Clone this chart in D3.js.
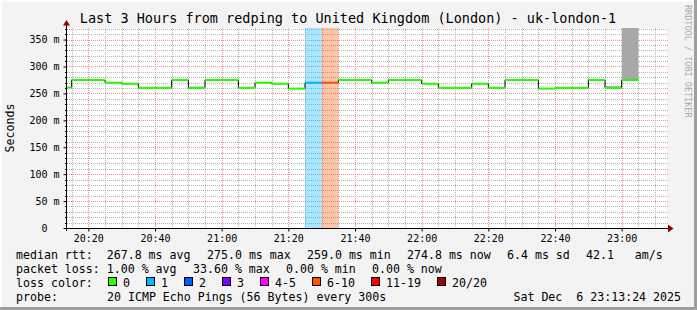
<!DOCTYPE html>
<html lang="en">
<head>
<meta charset="utf-8" />
<title>uk-london-1 smokeping</title>
<script src="https://cdn.jsdelivr.net/npm/d3@7"></script>
<style>
  html, body { margin: 0; padding: 0; background: #f3f3f3; }
  svg { display: block; font-family: "DejaVu Sans Mono", monospace; }
  text { white-space: pre; }
</style>
</head>
<body>
<div id="chart"></div>
<script>
// 5 minute steps, each label is the end of the step
const stepTimes = ["20:15","20:20","20:25","20:30","20:35","20:40","20:45","20:50","20:55","21:00",
                   "21:05","21:10","21:15","21:20","21:25","21:30","21:35","21:40","21:45","21:50",
                   "21:55","22:00","22:05","22:10","22:15","22:20","22:25","22:30","22:35","22:40",
                   "22:45","22:50","22:55","23:00","23:05"];
// median rtt in ms
const medianRtt = [261, 275, 275, 270, 268, 260.5, 260.5, 275, 260.5, 275,
                   275, 260.5, 270, 268, 259, 270, 270, 275, 275, 270,
                   275, 275, 268, 260.5, 260.5, 268, 260.5, 275, 275, 259,
                   260.5, 260.5, 275, 260.5, 274.8];
// index into lossColors for every step
const lossIndex = [0,0,0,0,0,0,0,0,0,0, 0,0,0,0,0,1,5,0,0,0, 0,0,0,0,0,0,0,0,0,0, 0,0,0,0,0];

const lossLabels = ["0", "1", "2", "3", "4-5", "6-10", "11-19", "20/20"];
const lossColors = ["#26ff00", "#00b8ff", "#0059ff", "#7e00ff", "#ff00ff", "#ff5500", "#ff0000", "#a10000"];

// smoke (ping spread) that shows above the median
const smokeTimes = ["20:55", "23:00", "23:05"];
const smokeHigh = [263, 264, 372];
const smokeShade = ["#d6d6d6", "#bdbdbd", "#a8a8a8"];

const yTicks = [0, 50, 100, 150, 200, 250, 300, 350];

const titleText = "Last 3 Hours from redping to United Kingdom (London) - uk-london-1";
const rttStats = ["median rtt:  267.8 ms avg", "275.0 ms max", "259.0 ms min", "274.8 ms now", "6.4 ms sd", "42.1   am/s"];
const lossStats = ["packet loss: 1.00 % avg", "33.60 % max", "0.00 % min", "0.00 % now"];
const probeText = "20 ICMP Echo Pings (56 Bytes) every 300s";
const stampText = "Sat Dec  6 23:13:24 2025";

// ---- layout ----
const width = 697, height = 310;
const plotLeft = 67, plotRight = 667, plotTop = 28, plotBottom = 228;

const day = Date.UTC(2025, 11, 6);
const parse = s => {
  const [h, m, sec] = s.split(":").map(Number);
  return new Date(day + ((h * 60 + m) * 60 + (sec || 0)) * 1000);
};

const x = d3.scaleUtc()
  .domain([parse("20:13:36"), parse("23:13:36")])
  .range([plotLeft, plotRight]);

const y = d3.scaleLinear()
  .domain([0, 371.5])
  .range([plotBottom, plotTop]);

const steps = stepTimes.map((s, i) => {
  const end = parse(s);
  return { start: new Date(+end - 300000), end, value: medianRtt[i], loss: lossIndex[i] };
});

const svg = d3.select("#chart").append("svg")
  .attr("width", width)
  .attr("height", height)
  .attr("viewBox", [0, 0, width, height]);

// frame
svg.append("rect").attr("width", width).attr("height", height).attr("fill", "#f3f3f3");
svg.append("path").attr("fill", "#fcfcfc")
  .attr("d", `M0,0H${width}V2H2V${height}H0Z`);
svg.append("path").attr("fill", "#9e9e9e")
  .attr("d", `M${width},0V${height}H0V${height - 3}H${width - 3}V0Z`);

// canvas
svg.append("rect")
  .attr("x", plotLeft).attr("y", plotTop)
  .attr("width", plotRight - plotLeft).attr("height", plotBottom - plotTop)
  .attr("fill", "#ffffff");

svg.append("clipPath").attr("id", "plot")
  .append("rect").attr("x", plotLeft).attr("y", plotTop)
  .attr("width", plotRight - plotLeft + 1).attr("height", plotBottom - plotTop);

// grid
const minorX = x.ticks(d3.utcMinute.every(5));
const majorX = x.ticks(d3.utcMinute.every(20));
const minorY = d3.range(10, 371, 10).filter(v => v % 50 !== 0);
const grid = svg.append("g").attr("stroke-dasharray", "1,1").attr("stroke-width", 1);

grid.selectAll(".mx").data(minorX.filter(d => d.getUTCMinutes() % 20 !== 0)).join("line")
  .attr("x1", d => Math.round(x(d)) + 0.5).attr("x2", d => Math.round(x(d)) + 0.5)
  .attr("y1", plotTop).attr("y2", plotBottom)
  .attr("stroke", "#b4b4b4");
grid.selectAll(".my").data(minorY).join("line")
  .attr("x1", plotLeft).attr("x2", plotRight + 1)
  .attr("y1", d => Math.round(y(d)) + 0.5).attr("y2", d => Math.round(y(d)) + 0.5)
  .attr("stroke", "#b4b4b4");
grid.selectAll(".Mx").data(majorX).join("line")
  .attr("x1", d => Math.round(x(d)) + 0.5).attr("x2", d => Math.round(x(d)) + 0.5)
  .attr("y1", plotTop).attr("y2", plotBottom)
  .attr("stroke", "#ee9090");
grid.selectAll(".My").data(yTicks.slice(1)).join("line")
  .attr("x1", plotLeft).attr("x2", plotRight + 1)
  .attr("y1", d => Math.round(y(d)) + 0.5).attr("y2", d => Math.round(y(d)) + 0.5)
  .attr("stroke", "#ee9090");

const plot = svg.append("g").attr("clip-path", "url(#plot)");

// loss background bands
plot.selectAll(".band").data(steps.filter(d => d.loss > 0)).join("rect")
  .attr("x", d => x(d.start))
  .attr("width", d => x(d.end) - x(d.start))
  .attr("y", plotTop).attr("height", plotBottom - plotTop)
  .attr("fill", d => lossColors[d.loss])
  .attr("fill-opacity", 0.34);

// smoke
plot.selectAll(".smoke").data(smokeTimes).join("rect")
  .attr("x", d => x(new Date(+parse(d) - 300000)))
  .attr("width", d => x(parse(d)) - x(new Date(+parse(d) - 300000)))
  .attr("y", (d, i) => y(smokeHigh[i]))
  .attr("height", (d, i) => y(medianRtt[stepTimes.indexOf(d)]) - y(smokeHigh[i]))
  .attr("fill", (d, i) => smokeShade[i]);

// median: black step line with colored loss segments on top
const last = steps[steps.length - 1];
const stepPoints = steps.map(d => [d.start, d.value]).concat([[last.end, last.value]]);
plot.append("path")
  .attr("fill", "none")
  .attr("stroke", "#000")
  .attr("stroke-width", 1)
  .attr("d", d3.line().x(d => x(d[0])).y(d => y(d[1])).curve(d3.curveStepAfter)(stepPoints));

plot.selectAll(".seg").data(steps).join("line")
  .attr("x1", d => x(d.start)).attr("x2", d => x(d.end))
  .attr("y1", d => y(d.value)).attr("y2", d => y(d.value))
  .attr("stroke", d => lossColors[d.loss])
  .attr("stroke-width", 2);

// axes
const xAxis = svg.append("g")
  .attr("transform", `translate(0,${plotBottom + 0.5})`)
  .call(d3.axisBottom(x).tickValues(majorX).tickFormat(d3.utcFormat("%H:%M")).tickSize(3).tickPadding(3))
  .call(g => g.select(".domain").remove());
xAxis.selectAll("text").attr("font-size", 10).attr("fill", "#000").attr("font-family", "DejaVu Sans Mono");
xAxis.selectAll(".tick line").attr("stroke", "#000");

const yAxis = svg.append("g")
  .attr("transform", `translate(${plotLeft - 0.5},0)`)
  .call(d3.axisLeft(y).tickValues(yTicks).tickFormat(v => v === 0 ? "0  " : v + " m").tickSize(3).tickPadding(4))
  .call(g => g.select(".domain").remove());
yAxis.selectAll("text").attr("font-size", 10).attr("fill", "#000").attr("font-family", "DejaVu Sans Mono");
yAxis.selectAll(".tick line").attr("stroke", "#000");

// minor ticks on the y axis
svg.append("g").attr("stroke", "#000").selectAll("line").data(minorY).join("line")
  .attr("x1", plotLeft - 2).attr("x2", plotLeft)
  .attr("y1", d => Math.round(y(d)) + 0.5).attr("y2", d => Math.round(y(d)) + 0.5);

svg.append("line").attr("stroke", "#000")
  .attr("x1", plotLeft - 0.5).attr("x2", plotLeft - 0.5).attr("y1", plotBottom + 3).attr("y2", 25);
svg.append("line").attr("stroke", "#000")
  .attr("x1", 64).attr("x2", 669).attr("y1", plotBottom + 0.5).attr("y2", plotBottom + 0.5);
svg.append("path").attr("fill", "#990000")
  .attr("d", `M${plotLeft - 4},25.5L${plotLeft + 3},25.5L${plotLeft - 0.5},20Z`);
svg.append("path").attr("fill", "#990000")
  .attr("d", `M668,${plotBottom - 3.5}L668,${plotBottom + 4.5}L673.5,${plotBottom + 0.5}Z`);

// title and labels
svg.append("text")
  .attr("x", 348).attr("y", 23)
  .attr("text-anchor", "middle")
  .attr("font-size", 13.5)
  .text(titleText);

svg.append("text")
  .attr("transform", `translate(13.5,${(plotTop + plotBottom) / 2}) rotate(-90)`)
  .attr("text-anchor", "middle")
  .attr("font-size", 11.6)
  .text("Seconds");

svg.append("text")
  .attr("transform", "translate(684.5,5) rotate(90)")
  .attr("font-size", 8.5)
  .attr("fill", "#aaaaaa")
  .text("RRDTOOL / TOBI OETIKER");

// legend
const charW = 7, gap = 16, legendX = 16;
const legend = svg.append("g").attr("font-size", 11.6).attr("fill", "#000");

function legendRow(items, yPos) {
  let cx = legendX;
  items.forEach(s => {
    legend.append("text").attr("x", cx).attr("y", yPos).text(s);
    cx += s.length * charW + gap;
  });
}
legendRow(rttStats, 258.5);
legendRow(lossStats, 272.5);

legend.append("text").attr("x", legendX).attr("y", 286.5).text("loss color:");
let sx = 108;
lossLabels.forEach((lab, i) => {
  legend.append("rect")
    .attr("x", sx + 0.5).attr("y", 277.5)
    .attr("width", 8).attr("height", 8)
    .attr("fill", lossColors[i])
    .attr("stroke", "#000");
  legend.append("text").attr("x", sx + 15).attr("y", 286.5).text(lab);
  sx += 15 + lab.length * charW + gap;
});

legend.append("text").attr("x", legendX).attr("y", 300.5).text("probe:");
legend.append("text").attr("x", 107).attr("y", 300.5).text(probeText);
legend.append("text").attr("x", 681).attr("y", 300.5).attr("text-anchor", "end").text(stampText);
</script>
</body>
</html>
